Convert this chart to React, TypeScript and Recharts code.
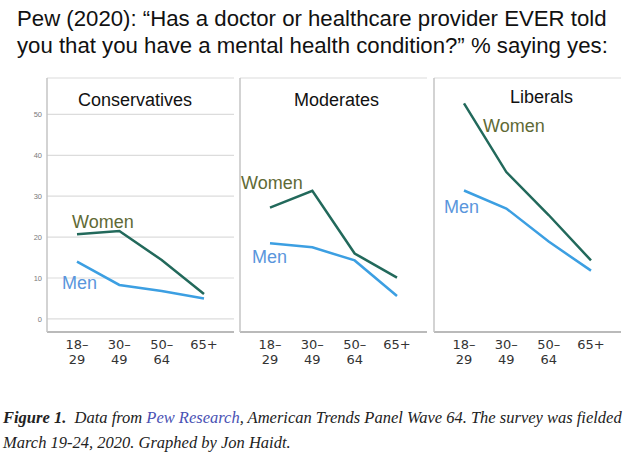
import React from "react";
import { LineChart, Line, XAxis, YAxis, CartesianGrid } from "recharts";

const AGE_GROUPS = ["18–29", "30–49", "50–64", "65+"];
const AGE_TOP = ["18–", "30–", "50–", "65+"];
const AGE_BOTTOM = ["29", "49", "64", ""];
const Y_TICKS = [0, 10, 20, 30, 40, 50];

const CONSERVATIVE_WOMEN = [20.7, 21.5, 14.4, 6.1];
const CONSERVATIVE_MEN = [14.0, 8.3, 6.8, 5.0];
const MODERATE_WOMEN = [27.2, 31.3, 16.0, 10.1];
const MODERATE_MEN = [18.5, 17.5, 14.3, 5.6];
const LIBERAL_WOMEN = [52.7, 35.9, 25.4, 14.3];
const LIBERAL_MEN = [31.4, 27.0, 18.9, 11.8];

const PANEL_TITLES = ["Conservatives", "Moderates", "Liberals"];

const WOMEN_LINE = "#22695b";
const MEN_LINE = "#3c9fe2";
const WOMEN_TEXT = "#5f6a36";
const MEN_TEXT = "#5a96dc";

const SANS = "'Liberation Sans', Arial, Helvetica, sans-serif";

// layout of the three panels (left edge of plot, y-axis width)
const PANEL_LEFT = [47, 240, 434];
const PLOT_W = 187;
const CHART_TOP = 70;
const CHART_H = 310;

const panels = [
  { women: CONSERVATIVE_WOMEN, men: CONSERVATIVE_MEN, axisW: 47, titleX: 78, titleY: 105.5, wx: 72, wy: 227.5, mx: 62, my: 289 },
  { women: MODERATE_WOMEN, men: MODERATE_MEN, axisW: 1, titleX: 294, titleY: 105.5, wx: 241, wy: 189.3, mx: 252, my: 262.7 },
  { women: LIBERAL_WOMEN, men: LIBERAL_MEN, axisW: 1, titleX: 510, titleY: 103.3, wx: 483, wy: 131.7, mx: 444, my: 212.7 },
];

function AgeTick(props: any) {
  const { x, y, payload } = props;
  const i = AGE_GROUPS.indexOf(payload.value);
  return (
    <text x={x} y={y} textAnchor="middle" fontFamily="'DejaVu Sans', sans-serif" fontSize={13} fill="#333">
      <tspan x={x} dy={17}>{AGE_TOP[i]}</tspan>
      <tspan x={x} dy={14.7}>{AGE_BOTTOM[i]}</tspan>
    </text>
  );
}

function Panel({ idx }: { idx: number }) {
  const p = panels[idx];
  const data = AGE_GROUPS.map((age, i) => ({ age, women: p.women[i], men: p.men[i] }));
  const first = idx === 0;
  return (
    <div style={{ position: "absolute", left: PANEL_LEFT[idx] - p.axisW, top: CHART_TOP }}>
      <LineChart width={p.axisW + PLOT_W} height={CHART_H} data={data} margin={{ top: 8, right: 0, bottom: 0, left: 0 }}>
        <CartesianGrid vertical={false} stroke="#dcdcdc" strokeWidth={1.2} />
        <XAxis
          dataKey="age"
          padding={{ left: 30, right: 30 }}
          height={48}
          tickLine={false}
          tickSize={0}
          tickMargin={0}
          axisLine={{ stroke: "#a8a8a8", strokeWidth: 1.5 }}
          tick={<AgeTick />}
          interval={0}
        />
        <YAxis
          width={p.axisW}
          domain={[-3.2, 58.9]}
          ticks={Y_TICKS}
          tickLine={false}
          tickSize={3}
          tickMargin={2}
          axisLine={{ stroke: "#c4c4c4", strokeWidth: 1.5 }}
          tick={first ? { fontSize: 7.5, fill: "#7a7a7a", fontFamily: SANS } : false}
        />
        <Line type="linear" dataKey="women" stroke={WOMEN_LINE} strokeWidth={2.5} dot={false} isAnimationActive={false} />
        <Line type="linear" dataKey="men" stroke={MEN_LINE} strokeWidth={2.5} dot={false} isAnimationActive={false} />
      </LineChart>
    </div>
  );
}

export default function App() {
  return (
    <div style={{ position: "absolute", left: 0, top: 0, width: 639, height: 458, background: "#fff", overflow: "hidden" }}>
      {[0, 1, 2].map((i) => (
        <Panel key={i} idx={i} />
      ))}
      <svg width={639} height={458} style={{ position: "absolute", left: 0, top: 0, pointerEvents: "none" }}>
        <text x={17} y={26} fontFamily={SANS} fontSize={22.2} fill="#111">
          Pew (2020): “Has a doctor or healthcare provider EVER told
        </text>
        <text x={17} y={53} fontFamily={SANS} fontSize={22.2} fill="#111">
          you that you have a mental health condition?” % saying yes:
        </text>
        {panels.map((p, i) => (
          <g key={i}>
            <text x={p.titleX} y={p.titleY} fontFamily={SANS} fontSize={18} fill="#111">
              {PANEL_TITLES[i]}
            </text>
            <text x={p.wx} y={p.wy} fontFamily={SANS} fontSize={18} fill={WOMEN_TEXT}>
              Women
            </text>
            <text x={p.mx} y={p.my} fontFamily={SANS} fontSize={18} fill={MEN_TEXT}>
              Men
            </text>
          </g>
        ))}
        <text x={3} y={423} fontFamily="'Liberation Serif', serif" fontStyle="italic" fontSize={16.5} fill="#222" style={{ whiteSpace: "pre" }}>
          <tspan fontWeight="bold">Figure 1.</tspan>
          <tspan>{"  Data from "}</tspan>
          <tspan fill="#4a52b4">Pew Research</tspan>
          <tspan>, American Trends Panel Wave 64. The survey was fielded</tspan>
        </text>
        <text x={3} y={448} fontFamily="'Liberation Serif', serif" fontStyle="italic" fontSize={16.5} fill="#222">
          March 19-24, 2020. Graphed by Jon Haidt.
        </text>
      </svg>
    </div>
  );
}
